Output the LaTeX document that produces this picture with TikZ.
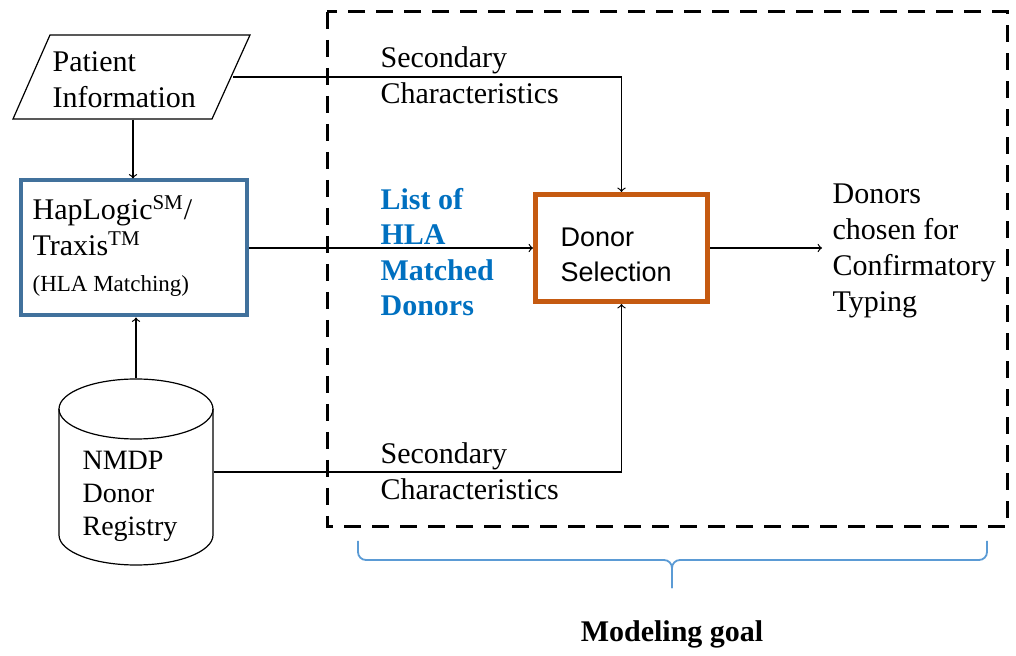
\documentclass[tikz,border=0pt]{standalone}
\usepackage{fontspec}
\setmainfont{Liberation Serif}
\setsansfont{Liberation Sans}
\definecolor{hapblue}{RGB}{65,113,156}
\definecolor{selorange}{RGB}{197,90,17}
\definecolor{listblue}{RGB}{0,112,192}
\definecolor{bracblue}{RGB}{91,155,213}

\begin{document}
\begin{tikzpicture}[x=0.5pt,y=-0.5pt,>=to,line width=0.6pt,
  txt/.style={font=\fontsize{15}{18}\selectfont, align=left, inner sep=0pt, anchor=west},
  listtxt/.style={txt, font=\fontsize{15}{17.7}\selectfont\bfseries, text=listblue}]
\useasboundingbox (0,0) rectangle (1016,656);
% dashed region of the model
\draw[line width=1.5pt, dash pattern=on 8.5pt off 5.5pt] (327,12) rectangle (1007,527);

% inputs
\node[minimum width=99.75pt, minimum height=42pt, inner sep=0pt] (pat) at (133,77) {};
\draw (50,35) -- (250,35) -- (212,119) -- (13,119) -- cycle;
\node[txt] (pattxt) at (52,80) {Patient\\Information};
\node[draw=hapblue, line width=2pt, minimum width=113pt, minimum height=67.5pt] (hap) at (134,248) {};
\node[txt] (haptxt) at (32,246) {HapLogic\textsuperscript{SM}/\\Traxis\textsuperscript{TM}\\
  {\fontsize{11.5}{16}\selectfont (HLA Matching)}};

% registry cylinder
\node[minimum width=77pt, minimum height=93pt, inner sep=0pt] (reg) at (136,472) {};
\draw (59,409) -- (59,535) arc[start angle=180, end angle=0, x radius=77, y radius=30] -- (213,409);
\draw (136,409) ellipse [x radius=77, y radius=30];
\node[txt, font=\fontsize{14}{16.5}\selectfont] (regtxt) at (82,496) {NMDP\\Donor\\Registry};

% selection
\node[draw=selorange, line width=2.5pt, minimum width=86pt, minimum height=53.5pt] (sel) at (621.5,248) {};
\node[txt, font=\sffamily\fontsize{13.5}{17.5}\selectfont] (seltxt) at (560,255) {Donor\\Selection};
\node[txt, inner xsep=5pt] (out) at (822,251) {Donors\\chosen for\\Confirmatory\\Typing};

% labels
\node[txt] (sectop) at (380,75) {Secondary\\Characteristics};
\node[txt] (secbot) at (380,471) {Secondary\\Characteristics};
\node[listtxt] (list) at (380,252) {List of\\HLA\\Matched\\Donors};

% connectors
\draw[->] (pat.east) -| (sel.north);
\draw[->] (pat.south) -- (pat.south |- hap.north);
\draw[->] (reg.north) -- (reg.north |- hap.south);
\draw[->] (reg.east) -| (sel.south);
\draw[->] (hap.east) -- (sel.west);
\draw[->] (sel.east) -- (sel.east -| out.west);

% brace
\draw[bracblue, line width=0.9pt, rounded corners=4pt] (358,541) -- (358,560) -- (672,560) -- (672,588);
\draw[bracblue, line width=0.9pt, rounded corners=4pt] (987,541) -- (987,560) -- (672,560) -- (672,588);
\node[font=\fontsize{15}{18}\selectfont\bfseries] (goal) at (672,634) {Modeling goal};
\end{tikzpicture}
\end{document}
